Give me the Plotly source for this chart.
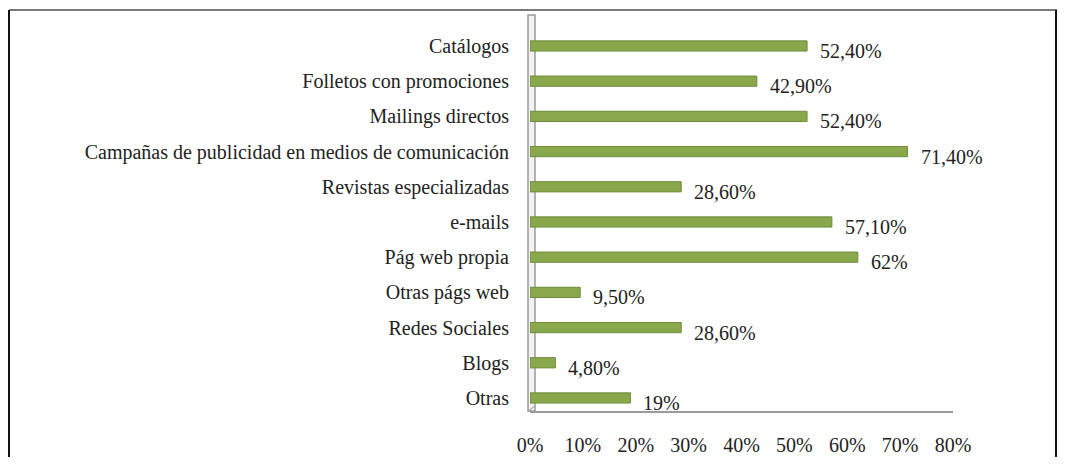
import plotly.graph_objects as go

categories = [
    "Catálogos",
    "Folletos con promociones",
    "Mailings directos",
    "Campañas de publicidad en medios de comunicación",
    "Revistas especializadas",
    "e-mails",
    "Pág web propia",
    "Otras págs web",
    "Redes Sociales",
    "Blogs",
    "Otras",
]
values = [52.4, 42.9, 52.4, 71.4, 28.6, 57.1, 62.0, 9.5, 28.6, 4.8, 19.0]
value_labels = ["52,40%", "42,90%", "52,40%", "71,40%", "28,60%", "57,10%",
                "62%", "9,50%", "28,60%", "4,80%", "19%"]
x_ticks = [0, 10, 20, 30, 40, 50, 60, 70, 80]
x_tick_labels = ["0%", "10%", "20%", "30%", "40%", "50%", "60%", "70%", "80%"]

# page body has an 8px default margin on every side; compensate
OFF = 8
W, H = 1065 - 2 * OFF, 465 - 2 * OFF
ML, MT = 530 - OFF, 15 - OFF
MR = W - (953 - OFF)
MB = H - (411 - OFF)
PH = H - MT - MB

FONT = "Liberation Serif, Times New Roman, serif"
TXT = "#222222"
FS = 20

fig = go.Figure()
fig.add_trace(go.Bar(
    x=values, y=categories, orientation="h",
    width=0.29,
    marker=dict(color="#88a84b", line=dict(color="#6f8c3b", width=1)),
    hoverinfo="skip",
))

for v, c, t in zip(values, categories, value_labels):
    fig.add_annotation(x=v, y=c, text=t, showarrow=False, xanchor="left",
                       xshift=11, yshift=-5,
                       font=dict(family=FONT, size=FS, color=TXT))

def pline(x0, x1, y0, y1, color, width):
    return dict(type="line", xref="paper", yref="paper",
                xsizemode="pixel", ysizemode="pixel", xanchor=0, yanchor=0,
                x0=x0, x1=x1, y0=y0, y1=y1,
                line=dict(color=color, width=width))

shapes = []
# 3D wall on the left of the plot
shapes.append(dict(type="rect", xref="paper", yref="paper",
                   xsizemode="pixel", ysizemode="pixel", xanchor=0, yanchor=0,
                   x0=-2, x1=5, y0=0, y1=PH, fillcolor="#f3f3f3",
                   line=dict(color="#9a9a9a", width=1.5), layer="below"))
corner = pline(-2, 5, 0, 5, "#9a9a9a", 1)
corner["layer"] = "below"
shapes.append(corner)
# outer frame
top_y = PH + MT - 2
shapes.append(pline(1 - ML, W - ML, top_y, top_y, "#7a7a7a", 2))
shapes.append(pline(1 - ML, 1 - ML, top_y, -MB - 5, "#111111", 2))
shapes.append(pline(W - 1 - ML, W - 1 - ML, top_y, -MB - 5, "#111111", 2))

fig.update_layout(
    width=W, height=H,
    autosize=False,
    margin=dict(l=ML, r=MR, t=MT, b=MB, pad=0, autoexpand=False),
    paper_bgcolor="white", plot_bgcolor="white",
    showlegend=False,
    shapes=shapes,
    font=dict(family=FONT, size=FS, color=TXT),
    xaxis=dict(range=[0, 80], tickvals=x_ticks, ticktext=x_tick_labels,
               showgrid=False, zeroline=False, showline=True,
               linecolor="#9a9a9a", linewidth=2, ticks="",
               ticklabelstandoff=15, automargin=False,
               tickfont=dict(family=FONT, size=FS, color=TXT)),
    yaxis=dict(categoryorder="array", categoryarray=categories,
               range=[10.37, -0.88], showgrid=False, zeroline=False,
               showline=False, ticks="", ticklabelstandoff=20,
               automargin=False,
               tickfont=dict(family=FONT, size=FS, color=TXT)),
)

fig.write_html("out.html")
